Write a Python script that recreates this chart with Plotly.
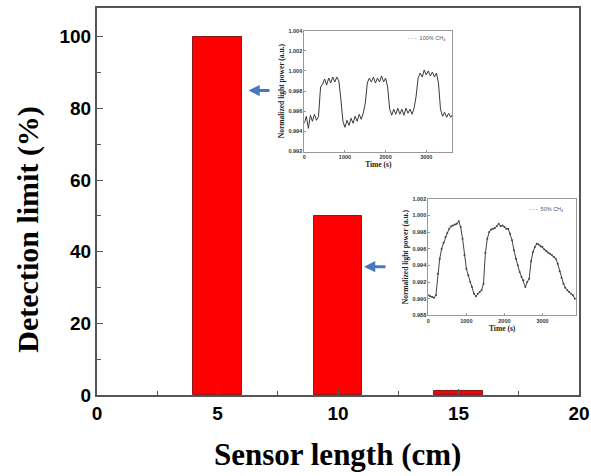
import plotly.graph_objects as go

# ---------------- main bar chart data ----------------
sensor_length = [5, 10, 15]
detection_limit = [100, 50, 1]
x_ticks = [0, 5, 10, 15, 20]
x_minor = [2.5, 7.5, 12.5, 17.5]
y_ticks = [0, 20, 40, 60, 80, 100]
y_minor = [10, 30, 50, 70, 90]

# ---------------- inset 1: 100% CH4 ----------------
t1 = [0, 50, 100, 150, 200, 250, 300, 350, 400, 450, 500, 550, 600, 650, 700, 750,
      800, 850, 900, 950, 1000, 1050, 1100, 1150, 1200, 1250, 1300, 1350, 1400, 1450,
      1500, 1550, 1600, 1650, 1700, 1750, 1800, 1850, 1900, 1950, 2000, 2050, 2100,
      2150, 2200, 2250, 2300, 2350, 2400, 2450, 2500, 2550, 2600, 2650, 2700, 2750,
      2800, 2850, 2900, 2950, 3000, 3050, 3100, 3150, 3200, 3250, 3300, 3350, 3400,
      3450, 3500, 3550, 3600, 3650]
p1 = [0.9948, 0.9955, 0.9943, 0.9956, 0.9950, 0.9957, 0.9951, 0.9955,
      0.9984,
      0.9987, 0.9992, 0.9986, 0.9993, 0.9988, 0.9994, 0.9989, 0.9994, 0.9990,
      0.9972,
      0.9950, 0.9944, 0.9951, 0.9946, 0.9953, 0.9948, 0.9955, 0.9950, 0.9957, 0.9952,
      0.9958,
      0.9968,
      0.9988, 0.9993, 0.9989, 0.9994, 0.9988, 0.9993, 0.9989, 0.9995, 0.9989, 0.9993,
      0.9984,
      0.9962, 0.9956, 0.9962, 0.9957, 0.9963, 0.9957, 0.9962, 0.9956, 0.9963, 0.9958,
      0.9962, 0.9957, 0.9963,
      0.9975,
      0.9993, 0.9998, 0.9994, 1.0001, 0.9996, 1.0000, 0.9995, 0.9999, 0.9994, 0.9998,
      0.9988,
      0.9962, 0.9955, 0.9959, 0.9954, 0.9958, 0.9954, 0.9957]

# ---------------- inset 2: 50% CH4 ----------------
t2 = [0, 50, 100, 150, 200, 250, 300, 350, 400, 450, 500, 550, 600, 650, 700, 750,
      800, 850, 900, 950, 1000, 1050, 1100, 1150, 1200, 1250, 1300, 1350, 1400, 1450,
      1500, 1550, 1600, 1650, 1700, 1750, 1800, 1850, 1900, 1950, 2000, 2050, 2100,
      2150, 2200, 2250, 2300, 2350, 2400, 2450, 2500, 2550, 2600, 2650, 2700, 2750,
      2800, 2850, 2900, 2950, 3000, 3050, 3100, 3150, 3200, 3250, 3300, 3350, 3400,
      3450, 3500, 3550, 3600, 3650, 3700, 3750, 3800, 3850]
p2 = [0.9904, 0.9903, 0.9902, 0.9901, 0.9904, 0.9930, 0.9948, 0.9960, 0.9967, 0.9974,
      0.9979, 0.9984, 0.9987, 0.9988, 0.9989, 0.9990, 0.9993, 0.9986, 0.9972, 0.9952,
      0.9936, 0.9928, 0.9920, 0.9914, 0.9906, 0.9903, 0.9906, 0.9908, 0.9910, 0.9918,
      0.9955, 0.9972, 0.9980, 0.9983, 0.9984, 0.9985, 0.9987, 0.9990, 0.9987, 0.9988,
      0.9986, 0.9984, 0.9984, 0.9978, 0.9970, 0.9958, 0.9948, 0.9940, 0.9932, 0.9926,
      0.9922, 0.9914, 0.9920, 0.9924, 0.9945, 0.9956, 0.9962, 0.9966, 0.9965, 0.9963,
      0.9962, 0.9959, 0.9957, 0.9955, 0.9954, 0.9952, 0.9950, 0.9948, 0.9942, 0.9933,
      0.9925, 0.9918, 0.9913, 0.9910, 0.9908, 0.9906, 0.9904, 0.9900]

inset1_yticks = [0.992, 0.994, 0.996, 0.998, 1.000, 1.002, 1.004]
inset2_yticks = [0.988, 0.990, 0.992, 0.994, 0.996, 0.998, 1.000, 1.002]
inset_xticks = [0, 1000, 2000, 3000]

W, H = 591, 476
L, R, T, B = 97, 12, 8, 80.5
PW, PH = W - L - R, H - T - B


def dx(px):
    return (px - L) / PW


def dy(py):
    return (H - B - py) / PH


fig = go.Figure()

fig.add_trace(go.Bar(
    x=sensor_length, y=detection_limit, width=2,
    marker=dict(color="#ff0000", line=dict(color="#8b1a1a", width=1)),
    xaxis="x", yaxis="y", showlegend=False))

fig.add_trace(go.Scatter(
    x=t1, y=p1, mode="lines", line=dict(color="#3a3a3a", width=1),
    xaxis="x2", yaxis="y2", showlegend=False))

fig.add_trace(go.Scatter(
    x=t2, y=p2, mode="lines+markers", line=dict(color="#444444", width=1),
    marker=dict(size=2, color="#444444"),
    xaxis="x3", yaxis="y3", showlegend=False))

tickfont_main = dict(family="Liberation Sans", size=19, color="black", weight="bold")
inset_tick = dict(family="Liberation Sans", size=5.5, color="#333", weight="bold")
inset_title = dict(family="Liberation Serif", size=7.5, color="#222", weight="bold")
axcol = "#555555"
inset_col = "#999999"

fig.update_layout(
    width=W, height=H,
    margin=dict(l=L, r=R, t=T, b=B, autoexpand=False),
    paper_bgcolor="white", plot_bgcolor="white",
    bargap=0,
    xaxis=dict(domain=[0, 1], range=[0, 20], tickmode="array", tickvals=x_ticks,
               ticks="inside", ticklen=6, tickwidth=1, tickcolor=axcol,
               showline=True, linecolor=axcol, linewidth=2, mirror=True,
               showgrid=False, zeroline=False, tickfont=tickfont_main),
    yaxis=dict(domain=[0, 1], range=[0, 108], tickmode="array", tickvals=y_ticks,
               ticks="inside", ticklen=6, tickwidth=1, tickcolor=axcol,
               showline=True, linecolor=axcol, linewidth=2, mirror=True,
               showgrid=False, zeroline=False, tickfont=tickfont_main),
    # overlay axes carrying only the minor ticks of the main plot
    xaxis4=dict(overlaying="x", anchor="y", side="bottom", range=[0, 20],
                tickmode="array", tickvals=x_minor, ticks="inside", ticklen=4,
                tickwidth=1, tickcolor=axcol, showticklabels=False,
                showline=False, showgrid=False, zeroline=False),
    yaxis4=dict(overlaying="y", anchor="x", side="left", range=[0, 108],
                tickmode="array", tickvals=y_minor, ticks="inside", ticklen=4,
                tickwidth=1, tickcolor=axcol, showticklabels=False,
                showline=False, showgrid=False, zeroline=False),
    xaxis2=dict(domain=[dx(304.3), dx(452.3)], anchor="y2", range=[0, 3640],
                tickvals=inset_xticks, ticks="inside", ticklen=2, tickcolor=inset_col,
                showline=True, linecolor=inset_col, linewidth=1, mirror=True,
                showgrid=False, zeroline=False, tickfont=inset_tick,
                title=dict(text="Time (s)", font=inset_title, standoff=2)),
    yaxis2=dict(domain=[dy(151.7), dy(30.7)], anchor="x2", range=[0.992, 1.004],
                tickvals=inset1_yticks, tickformat=".3f", ticks="inside", ticklen=2,
                tickcolor=inset_col, showline=True, linecolor=inset_col, linewidth=1,
                mirror=True, showgrid=False, zeroline=False, tickfont=inset_tick,
                title=dict(text="Normalized light power (a.u.)", font=inset_title,
                           standoff=2)),
    xaxis3=dict(domain=[dx(428.3), dx(576)], anchor="y3", range=[0, 3880],
                tickvals=inset_xticks, ticks="inside", ticklen=2, tickcolor=inset_col,
                showline=True, linecolor=inset_col, linewidth=1, mirror=True,
                showgrid=False, zeroline=False, tickfont=inset_tick,
                title=dict(text="Time (s)", font=inset_title, standoff=2)),
    yaxis3=dict(domain=[dy(315.7), dy(199)], anchor="x3", range=[0.988, 1.002],
                tickvals=inset2_yticks, tickformat=".3f", ticks="inside", ticklen=2,
                tickcolor=inset_col, showline=True, linecolor=inset_col, linewidth=1,
                mirror=True, showgrid=False, zeroline=False, tickfont=inset_tick,
                title=dict(text="Normalized light power (a.u.)", font=inset_title,
                           standoff=2)),
)

# invisible trace that binds the minor-tick overlay axes
fig.add_trace(go.Scatter(x=[None], y=[None], xaxis="x4", yaxis="y4",
                         showlegend=False, hoverinfo="skip"))

fig.add_annotation(text="Sensor length (cm)", xref="paper", yref="paper",
                   x=dx(337), y=dy(455), showarrow=False,
                   font=dict(family="Liberation Serif", size=31, color="black",
                             weight="bold"),
                   xanchor="center", yanchor="middle")
fig.add_annotation(text="Detection limit (%)", xref="paper", yref="paper",
                   x=dx(28), y=dy(230), showarrow=False,
                   font=dict(family="Liberation Serif", size=30, color="black",
                             weight="bold"),
                   textangle=-90, xanchor="center", yanchor="middle")

# inset legends
leg_font = dict(family="Liberation Sans", size=5.5, color="#555")
fig.add_annotation(text="- - -  100% CH<sub>4</sub>", xref="paper", yref="paper",
                   x=dx(427), y=dy(38.5), showarrow=False, font=leg_font,
                   xanchor="center", yanchor="middle")
fig.add_annotation(text="- - -  50% CH<sub>4</sub>", xref="paper", yref="paper",
                   x=dx(546), y=dy(210), showarrow=False, font=leg_font,
                   xanchor="center", yanchor="middle")

# blue arrows
arrow_col = "#4a78c0"
for tip, tail, yy in [(248.5, 271, 90.7), (364, 387, 267)]:
    fig.add_annotation(xref="paper", yref="paper", axref="pixel", ayref="pixel",
                       x=dx(tip), y=dy(yy), ax=tail - tip, ay=0, text="",
                       showarrow=True, arrowhead=2, arrowsize=0.75, arrowwidth=3,
                       arrowcolor=arrow_col)

fig.write_html("out.html", config={"displayModeBar": False},
               post_script="document.body.style.margin='0px';")
